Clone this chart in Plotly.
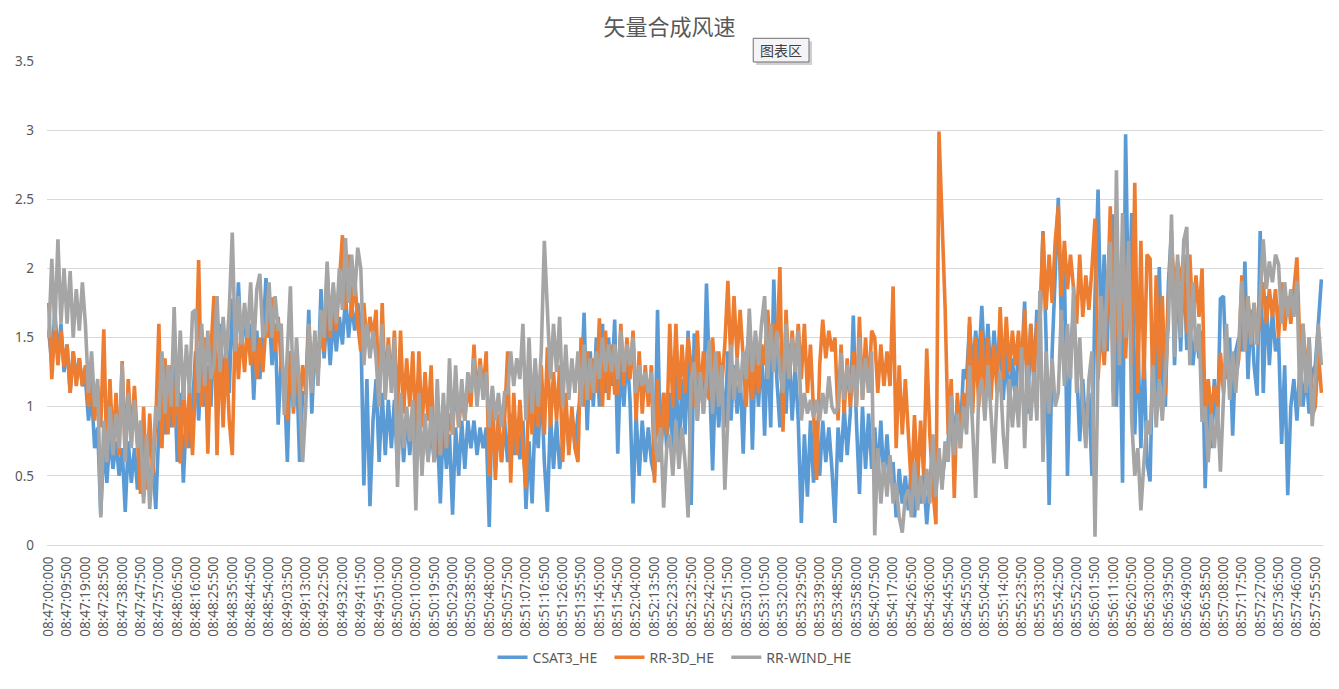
import plotly.graph_objects as go

# ---- data (6 samples per 9.5 s label interval) ----
SAMPLE_STEP_S = 9.5 / 6
START_H, START_M, START_S = 8, 47, 0
LABEL_STEP_S = 9.5
N_LABELS = 70

series_names = ["CSAT3_HE", "RR-3D_HE", "RR-WIND_HE"]
series_colors = ["#5B9BD5", "#ED7D31", "#A5A5A5"]

csat3_he = [
    1.55, 1.30, 1.70, 1.35, 1.60, 1.25,   1.45, 1.10, 1.40, 1.20, 1.35, 1.15,
    1.20, 0.90, 1.10, 0.70, 0.85, 0.22,   0.75, 0.45, 0.80, 0.55, 0.75, 0.50,
    0.70, 0.24, 0.75, 0.45, 0.70, 0.40,   0.80, 0.35, 0.65, 0.40, 0.60, 0.26,
    0.85, 1.20, 0.80, 1.10, 0.85, 1.30,   0.60, 1.10, 0.45, 0.95, 0.70, 1.00,
    1.40, 0.90, 1.35, 1.00, 1.30, 1.00,   1.55, 0.95, 1.60, 1.05, 1.50, 1.10,
    1.78, 1.30, 1.90, 1.40, 1.70, 1.40,   1.60, 1.05, 1.55, 1.20, 1.50, 1.93,
    1.70, 1.30, 1.60, 0.87, 1.35, 1.20,   0.60, 1.40, 1.00, 1.30, 0.60, 1.10,
    1.10, 1.70, 0.95, 1.50, 1.20, 1.85,   1.35, 1.70, 1.30, 1.65, 1.40, 1.65,
    1.45, 1.80, 1.50, 1.75, 1.55, 1.75,   1.60, 0.43, 1.20, 0.28, 0.90, 1.20,
    0.60, 1.10, 0.65, 1.05, 0.70, 1.05,   0.55, 1.00, 0.60, 0.95, 0.65, 0.95,
    0.65, 0.90, 0.60, 0.85, 0.62, 0.85,   0.60, 0.85, 0.30, 0.90, 0.55, 0.80,
    0.22, 0.85, 0.50, 0.90, 0.55, 0.90,   0.70, 0.90, 0.65, 0.85, 0.70, 0.85,
    0.13, 1.12, 0.55, 0.90, 0.60, 0.90,   0.60, 0.95, 0.65, 0.90, 0.62, 0.90,
    0.26, 0.75, 0.30, 0.95, 0.70, 1.20,   0.60, 0.24, 0.95, 0.55, 0.90, 0.55,
    0.75, 1.00, 0.70, 0.95, 0.72, 0.95,   1.10, 1.68, 0.83, 1.40, 1.00, 1.50,
    1.00, 1.60, 1.10, 1.50, 1.15, 1.63,   0.66, 1.35, 1.00, 1.40, 1.05, 0.30,
    0.95, 0.50, 0.90, 0.60, 0.85, 0.60,   0.50, 1.70, 0.60, 1.10, 0.70, 1.10,
    0.70, 1.30, 0.65, 1.20, 0.80, 1.55,   0.29, 1.53, 0.90, 1.30, 0.95, 1.89,
    1.20, 0.54, 1.25, 0.85, 1.20, 0.85,   1.40, 0.90, 1.30, 0.95, 1.25, 0.66,
    1.35, 1.55, 0.69, 1.40, 1.00, 1.45,   0.79, 1.50, 0.85, 1.92, 1.20, 0.85,
    1.30, 0.95, 1.45, 0.90, 1.30, 0.90,   0.16, 0.80, 0.35, 0.90, 0.45, 0.90,
    0.50, 0.90, 0.60, 0.85, 0.55, 0.16,   0.85, 0.60, 1.00, 0.65, 0.95, 1.66,
    0.90, 0.37, 1.00, 0.55, 0.95, 0.55,   0.85, 0.50, 0.90, 0.45, 0.80, 0.45,
    0.60, 0.20, 0.55, 0.30, 0.50, 0.25,   0.60, 0.20, 0.55, 0.30, 0.50, 0.15,
    0.45, 0.70, 0.40, 0.65, 0.45, 0.65,   0.75, 1.10, 0.70, 1.05, 0.80, 1.27,
    1.20, 1.60, 1.25, 1.55, 1.30, 1.73,   1.25, 1.60, 1.20, 1.55, 1.25, 1.55,
    1.05, 1.40, 1.00, 1.35, 1.05, 1.45,   1.30, 1.76, 0.95, 1.60, 1.20, 1.70,
    1.60, 2.27, 1.50, 0.29, 1.40, 1.90,   2.51, 1.60, 2.00, 0.50, 1.40, 1.70,
    1.30, 0.75, 1.20, 0.80, 1.10, 0.50,   1.80, 2.57, 1.50, 2.10, 1.40, 2.30,
    2.39, 1.00, 1.80, 0.45, 2.97, 1.60,   2.40, 0.80, 1.50, 0.70, 1.40, 0.60,
    0.46, 1.50, 1.00, 2.01, 1.20, 1.00,   1.90, 2.27, 1.30, 2.00, 1.40, 2.10,
    1.41, 1.60, 1.30, 1.55, 1.35, 1.55,   0.41, 1.10, 0.70, 1.20, 0.80, 1.78,
    1.80, 1.20, 1.50, 0.79, 1.40, 1.50,   1.40, 2.05, 1.20, 1.70, 1.30, 1.08,
    2.27, 1.10, 1.80, 1.30, 1.70, 1.40,   1.50, 0.73, 1.30, 0.36, 1.00, 1.20,
    0.90, 1.30, 1.00, 1.25, 0.95, 1.25,   1.30, 1.60, 1.92,
]

rr_3d_he = [
    1.75, 1.20, 1.60, 1.30, 1.55, 1.29,   1.45, 1.10, 1.40, 1.15, 1.35, 1.15,
    1.30, 1.00, 1.20, 0.90, 1.15, 0.85,   1.56, 0.60, 1.20, 0.70, 1.10, 0.65,
    1.33, 0.65, 1.20, 0.75, 1.15, 0.80,   0.37, 1.00, 0.40, 0.95, 0.50, 0.90,
    1.60, 0.70, 1.35, 0.80, 1.30, 0.85,   1.30, 0.59, 1.20, 0.70, 1.15, 0.65,
    1.20, 2.06, 1.00, 1.50, 0.66, 1.40,   1.80, 0.65, 1.50, 0.85, 1.40, 0.90,
    0.65, 1.65, 1.20, 1.55, 1.25, 1.60,   1.30, 1.55, 1.20, 1.50, 1.25, 1.60,
    1.50, 1.79, 1.40, 1.65, 1.30, 1.20,   0.90, 1.40, 0.95, 1.35, 1.00, 1.30,
    1.10, 1.60, 1.20, 1.50, 1.25, 1.55,   1.40, 2.00, 1.50, 1.85, 1.55, 1.90,
    2.24, 1.70, 2.10, 1.65, 1.95, 1.60,   1.40, 1.75, 1.45, 1.65, 1.50, 1.70,
    1.00, 1.75, 1.10, 1.50, 1.15, 1.55,   0.90, 1.55, 0.95, 1.35, 1.00, 1.40,
    0.80, 1.40, 0.85, 1.25, 0.90, 1.30,   0.60, 1.00, 0.65, 0.95, 0.70, 0.95,
    0.80, 1.20, 0.85, 1.10, 0.90, 1.15,   1.00, 1.45, 1.05, 1.35, 1.10, 1.40,
    0.50, 1.00, 0.47, 0.95, 0.60, 0.90,   1.40, 0.45, 1.10, 0.65, 1.05, 0.70,
    0.41, 1.20, 0.80, 1.15, 0.85, 1.30,   0.80, 1.43, 0.85, 1.25, 0.90, 1.30,
    0.60, 1.10, 0.65, 1.00, 0.70, 0.60,   1.50, 1.00, 1.40, 1.05, 1.35, 1.10,
    1.64, 1.00, 1.55, 1.05, 1.45, 1.10,   1.10, 1.60, 1.15, 1.50, 1.20, 1.55,
    0.90, 1.40, 0.95, 1.30, 1.00, 1.30,   0.45, 1.20, 0.60, 1.10, 0.80, 1.60,
    1.00, 1.60, 1.05, 1.45, 1.10, 1.50,   1.29, 1.00, 1.55, 1.05, 1.40, 1.10,
    1.05, 1.50, 1.10, 1.40, 1.15, 1.45,   1.91, 1.30, 1.80, 1.35, 1.70, 1.35,
    1.00, 1.50, 1.05, 1.40, 1.10, 1.45,   1.30, 1.70, 1.35, 1.60, 1.40, 2.01,
    0.82, 1.70, 1.20, 1.55, 1.25, 1.60,   1.20, 1.60, 1.10, 1.45, 0.90, 0.47,
    1.30, 1.63, 1.35, 1.55, 1.40, 1.50,   0.90, 1.45, 0.95, 1.35, 1.00, 1.40,
    1.00, 1.65, 1.05, 1.50, 1.10, 1.55,   1.50, 1.10, 1.45, 1.15, 1.40, 1.15,
    1.87, 0.70, 1.30, 0.80, 1.20, 0.75,   0.40, 0.94, 0.45, 0.90, 0.50, 1.42,
    0.80, 0.40, 0.15, 2.99, 2.30, 1.72,   0.80, 1.20, 0.34, 1.10, 0.70, 1.10,
    0.90, 1.65, 0.95, 1.50, 1.00, 1.55,   1.00, 1.50, 1.05, 1.45, 1.10, 1.72,
    1.20, 1.65, 1.25, 1.55, 1.30, 1.55,   1.10, 1.70, 1.15, 1.60, 1.20, 1.60,
    1.60, 2.26, 1.70, 2.10, 1.75, 2.20,   2.45, 1.80, 2.20, 1.85, 2.10, 1.85,
    1.60, 2.10, 1.65, 1.95, 1.70, 2.00,   2.36, 1.20, 1.60, 1.30, 1.70, 2.45,
    1.10, 2.00, 1.30, 1.90, 1.35, 1.95,   1.30, 2.62, 1.10, 2.20, 1.20, 2.10,
    2.07, 1.00, 1.95, 1.20, 1.80, 1.08,   1.80, 2.20, 1.85, 2.05, 1.90, 2.10,
    1.53, 2.10, 1.60, 1.95, 1.65, 2.00,   0.90, 1.20, 0.95, 1.15, 1.00, 1.39,
    1.10, 1.40, 1.15, 1.30, 1.20, 1.35,   1.95, 1.40, 1.80, 1.45, 1.75, 1.45,
    1.68, 1.90, 1.60, 1.85, 1.65, 1.85,   1.50, 1.90, 1.55, 1.80, 1.60, 1.85,
    2.08, 1.40, 1.60, 1.20, 1.50, 0.93,   1.00, 1.40, 1.10,
]

rr_wind_he = [
    1.50, 2.07, 1.55, 2.21, 1.60, 2.00,   1.60, 1.98, 1.50, 1.85, 1.55, 1.90,
    1.59, 1.10, 1.40, 1.00, 1.20, 0.20,   0.90, 0.60, 1.00, 0.65, 0.95, 0.70,
    1.31, 0.60, 1.10, 0.70, 1.05, 0.70,   0.90, 0.30, 0.80, 0.26, 0.60, 1.00,
    0.90, 1.40, 0.95, 1.30, 1.00, 1.72,   1.00, 1.55, 1.05, 1.45, 1.10, 1.68,
    1.70, 1.10, 1.60, 1.15, 1.55, 1.20,   1.30, 1.80, 1.25, 1.65, 1.35, 1.70,
    2.26, 1.40, 1.80, 1.45, 1.75, 1.50,   1.90, 1.40, 1.85, 1.96, 1.50, 1.55,
    1.90, 1.50, 1.80, 1.55, 1.60, 0.94,   1.40, 1.87, 1.00, 1.50, 1.10, 0.60,
    1.00, 1.60, 1.10, 1.55, 1.15, 1.70,   1.50, 2.05, 1.55, 1.90, 1.60, 2.00,
    1.70, 2.22, 1.75, 2.10, 1.80, 2.15,   2.00, 1.30, 1.60, 1.35, 1.55, 1.35,
    1.00, 1.60, 1.05, 1.45, 1.10, 1.50,   0.42, 1.10, 0.70, 1.00, 0.75, 1.05,
    0.25, 1.10, 0.50, 0.95, 0.60, 1.00,   0.60, 1.20, 0.65, 1.10, 0.70, 1.35,
    0.80, 1.30, 0.85, 1.20, 0.90, 1.25,   1.10, 1.35, 1.00, 1.30, 1.05, 1.25,
    0.85, 1.15, 0.90, 1.10, 0.85, 1.10,   1.10, 1.40, 1.15, 1.35, 1.20, 1.60,
    0.90, 1.50, 0.95, 1.35, 1.00, 1.40,   2.20, 1.70, 1.20, 1.60, 1.25, 1.65,
    1.00, 1.45, 1.05, 1.35, 1.10, 1.40,   1.00, 1.45, 1.05, 1.35, 1.10, 1.40,
    1.20, 1.50, 1.25, 1.45, 1.25, 1.45,   1.20, 1.55, 1.25, 1.45, 1.30, 1.50,
    1.10, 1.30, 1.15, 1.25, 1.10, 1.25,   0.80, 0.60, 0.85, 0.27, 0.70, 0.80,
    0.50, 0.90, 0.55, 0.85, 0.60, 0.20,   1.20, 1.32, 0.90, 1.25, 0.95, 1.20,
    1.48, 0.95, 1.40, 1.00, 1.30, 0.40,   1.00, 1.45, 1.05, 1.35, 1.10, 1.40,
    1.20, 1.71, 1.25, 1.55, 1.30, 1.60,   1.80, 1.20, 1.60, 1.25, 1.55, 1.25,
    1.10, 1.60, 1.20, 1.50, 1.25, 1.55,   0.90, 1.10, 0.95, 1.05, 0.92, 1.05,
    0.90, 1.10, 0.95, 1.22, 1.00, 0.95,   1.00, 1.39, 1.05, 1.30, 1.10, 1.30,
    1.00, 1.50, 1.05, 1.35, 1.10, 1.40,   0.07, 0.70, 0.30, 0.60, 0.35, 0.65,
    0.30, 0.45, 0.20, 0.09, 0.35, 0.40,   0.20, 0.60, 0.25, 0.50, 0.30, 0.55,
    0.30, 0.80, 0.35, 0.70, 0.40, 0.75,   0.60, 1.08, 0.65, 0.95, 0.70, 1.00,
    0.80, 1.30, 0.85, 0.34, 1.10, 1.20,   0.90, 1.30, 0.95, 0.59, 1.10, 1.25,
    0.80, 0.55, 1.20, 0.85, 1.15, 0.85,   1.43, 0.70, 1.30, 0.90, 1.25, 0.90,
    1.84, 0.60, 1.40, 0.95, 1.35, 1.00,   1.10, 1.70, 1.15, 1.60, 1.20, 1.87,
    1.10, 1.50, 1.00, 0.70, 1.20, 1.40,   0.06, 1.30, 1.80, 1.40, 1.90, 2.19,
    1.00, 2.71, 1.30, 2.40, 1.50, 2.20,   0.90, 0.50, 0.70, 0.25, 0.60, 0.90,
    0.80, 1.30, 0.85, 1.20, 0.90, 1.25,   1.60, 2.39, 1.36, 2.10, 1.50, 2.20,
    2.30, 1.30, 1.90, 1.40, 1.60, 0.89,   1.00, 0.60, 0.95, 0.70, 1.00, 0.53,
    1.00, 1.60, 1.05, 1.40, 1.10, 1.45,   1.91, 1.40, 1.80, 1.45, 1.75, 1.45,
    1.80, 2.21, 1.85, 2.05, 1.90, 2.10,   2.03, 1.60, 1.90, 1.65, 1.85, 1.65,
    1.91, 1.00, 1.60, 1.10, 1.50, 0.86,   1.20, 1.60, 1.30,
]

y_tick_values = [0, 0.5, 1, 1.5, 2, 2.5, 3, 3.5]

# ---- derived axis helpers ----
def fmt_time(sec_offset):
    total_ms = int(round((START_H * 3600 + START_M * 60 + START_S + sec_offset) * 1000))
    h = total_ms // 3600000
    m = (total_ms // 60000) % 60
    s = (total_ms // 1000) % 60
    ms = total_ms % 1000
    return f"{h:02d}:{m:02d}:{s:02d}:{ms:03d}"

tick_vals = [k * LABEL_STEP_S for k in range(N_LABELS)]
tick_text = [fmt_time(v) for v in tick_vals]

all_series = [csat3_he, rr_3d_he, rr_wind_he]
legend_pad = ["\u00a0\u00a0", "\u00a0\u00a0", ""]   # extra gap between legend entries

fig = go.Figure()
for name, color, vals, pad in zip(series_names, series_colors, all_series, legend_pad):
    xs = [i * SAMPLE_STEP_S for i in range(len(vals))]
    fig.add_trace(go.Scatter(
        x=xs, y=vals, mode="lines", name=name + pad,
        line=dict(color=color, width=3.6),
        hoverinfo="skip",
    ))

FONT = "Noto Sans, Noto Sans CJK SC, sans-serif"
TXT = "#595959"
TICK_SIZE = 13.5

# page has an 8px body margin; figure sized/offset to match the reference page
W, H = 1323, 673
fig.update_layout(
    width=W, height=H,
    margin=dict(l=35, r=7, t=53, b=130),
    paper_bgcolor="white", plot_bgcolor="white",
    title=dict(text="矢量合成风速", x=0.5, xanchor="center", y=1 - 19 / H, yanchor="middle",
               font=dict(family="Noto Sans CJK SC", size=22, color=TXT)),
    font=dict(family=FONT, size=TICK_SIZE, color=TXT),
    showlegend=True,
    legend=dict(orientation="h", x=(673 - 43) / 1281, xanchor="center",
                y=(551 - 665) / 490, yanchor="middle",
                font=dict(family=FONT, size=14, color=TXT), itemwidth=30,
                bgcolor="rgba(0,0,0,0)"),
    xaxis=dict(
        range=[-0.9, 659.5], tickmode="array", tickvals=tick_vals, ticktext=tick_text,
        tickangle=-90, showgrid=False, zeroline=False, showline=True,
        linecolor="#D9D9D9", linewidth=1, ticks="", ticklabelstandoff=5,
        tickfont=dict(family=FONT, size=TICK_SIZE, color=TXT),
    ),
    yaxis=dict(
        range=[0, 3.5], tickmode="array", tickvals=y_tick_values,
        ticktext=[f"{v:g}" for v in y_tick_values],
        showgrid=True, gridcolor="#D9D9D9", gridwidth=1,
        zeroline=True, zerolinecolor="#D9D9D9", zerolinewidth=1,
        showline=False, ticks="", ticklabelstandoff=12,
        tickfont=dict(family=FONT, size=TICK_SIZE, color=TXT),
    ),
)

# Excel "图表区" tooltip seen in the reference (page coords -> paper coords)
def px_x(p):
    return (p - 43) / 1281

def px_y(p):
    return (551 - p) / 490

fig.add_shape(type="rect", xref="paper", yref="paper",
              x0=px_x(755), x1=px_x(811), y0=px_y(65), y1=px_y(41),
              fillcolor="rgba(120,120,120,0.35)", line=dict(width=0), layer="above")
fig.add_shape(type="rect", xref="paper", yref="paper",
              x0=px_x(752), x1=px_x(808), y0=px_y(62), y1=px_y(38),
              fillcolor="#f3f3f8", line=dict(color="#707070", width=1), layer="above")
fig.add_annotation(xref="paper", yref="paper", x=px_x(780), y=px_y(50),
                   xanchor="center", yanchor="middle",
                   text="图表区", showarrow=False,
                   font=dict(family="Noto Sans CJK SC", size=14, color="#404040"))

fig.write_html("out.html")
